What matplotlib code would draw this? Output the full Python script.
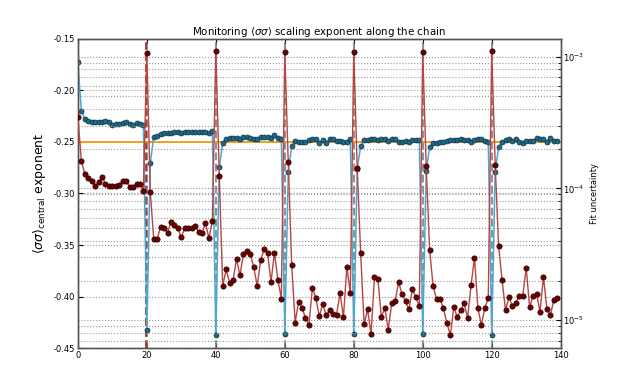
import numpy as np
import matplotlib
matplotlib.use("Agg")
import matplotlib.pyplot as plt

# exponent of <sigma sigma>_central at each step, 7 restarts of 20 steps
exponent = [
    -0.1730, -0.2196, -0.2277, -0.2293, -0.2303, -0.2312, -0.2312, -0.2312, -0.2296, -0.2312,
    -0.2335, -0.2325, -0.2322, -0.2318, -0.2308, -0.2330, -0.2335, -0.2318, -0.2322, -0.2335,
    -0.4325, -0.2707, -0.2448, -0.2443, -0.2420, -0.2415, -0.2412, -0.2415, -0.2405, -0.2408,
    -0.2412, -0.2405, -0.2408, -0.2400, -0.2405, -0.2408, -0.2405, -0.2400, -0.2412, -0.2398,
    -0.4374, -0.2745, -0.2512, -0.2470, -0.2465, -0.2465, -0.2462, -0.2468, -0.2450, -0.2452,
    -0.2462, -0.2468, -0.2470, -0.2455, -0.2450, -0.2452, -0.2458, -0.2435, -0.2460, -0.2472,
    -0.4357, -0.2788, -0.2539, -0.2487, -0.2497, -0.2497, -0.2497, -0.2481, -0.2474, -0.2474,
    -0.2513, -0.2481, -0.2506, -0.2474, -0.2474, -0.2487, -0.2487, -0.2497, -0.2497, -0.2474,
    -0.4364, -0.2760, -0.2539, -0.2481, -0.2481, -0.2468, -0.2468, -0.2481, -0.2474, -0.2468,
    -0.2487, -0.2468, -0.2474, -0.2497, -0.2497, -0.2487, -0.2497, -0.2481, -0.2481, -0.2481,
    -0.4364, -0.2779, -0.2551, -0.2513, -0.2506, -0.2500, -0.2500, -0.2490, -0.2481, -0.2481,
    -0.2481, -0.2468, -0.2481, -0.2481, -0.2497, -0.2481, -0.2474, -0.2474, -0.2487, -0.2497,
    -0.4374, -0.2788, -0.2551, -0.2497, -0.2481, -0.2474, -0.2487, -0.2474, -0.2497, -0.2513,
    -0.2487, -0.2487, -0.2487, -0.2465, -0.2468, -0.2474, -0.2497, -0.2465, -0.2487, -0.2487,
]

# fit uncertainty at each step
uncertainty = [
    3.47e-4, 1.63e-4, 1.29e-4, 1.21e-4, 1.14e-4, 1.05e-4, 1.11e-4, 1.22e-4, 1.09e-4, 1.05e-4,
    1.05e-4, 1.05e-4, 1.06e-4, 1.14e-4, 1.14e-4, 1.03e-4, 1.03e-4, 1.08e-4, 1.09e-4, 9.6e-5,
    1.07e-3, 9.35e-5, 4.11e-5, 4.15e-5, 5.12e-5, 5.03e-5, 4.61e-5, 5.58e-5, 5.27e-5, 4.98e-5,
    4.25e-5, 5.03e-5, 5.03e-5, 4.98e-5, 5.19e-5, 4.69e-5, 4.56e-5, 5.50e-5, 4.18e-5, 5.69e-5,
    1.11e-3, 1.25e-4, 1.82e-5, 2.43e-5, 1.92e-5, 2.02e-5, 2.91e-5, 2.20e-5, 3.18e-5, 3.35e-5,
    3.18e-5, 2.52e-5, 1.82e-5, 2.86e-5, 3.45e-5, 3.25e-5, 1.95e-5, 3.25e-5, 2.02e-5, 1.45e-5,
    1.09e-3, 1.58e-4, 2.61e-5, 9.6e-6, 1.38e-5, 1.24e-5, 1.04e-5, 9.2e-6, 1.76e-5, 1.48e-5,
    1.07e-5, 1.33e-5, 1.09e-5, 1.19e-5, 1.12e-5, 1.10e-5, 1.60e-5, 1.06e-5, 2.54e-5, 1.60e-5,
    1.09e-3, 1.43e-4, 3.21e-5, 9.3e-6, 1.21e-5, 7.8e-6, 2.11e-5, 2.04e-5, 1.05e-5, 1.24e-5,
    8.5e-6, 1.34e-5, 1.40e-5, 1.94e-5, 1.58e-5, 1.39e-5, 1.21e-5, 1.72e-5, 1.49e-5, 1.28e-5,
    1.09e-3, 1.47e-4, 3.41e-5, 1.82e-5, 1.44e-5, 1.46e-5, 1.23e-5, 9.5e-6, 7.7e-6, 1.26e-5,
    1.06e-5, 1.19e-5, 1.34e-5, 1.04e-5, 1.84e-5, 2.98e-5, 1.23e-5, 9.2e-6, 1.24e-5, 1.47e-5,
    1.10e-3, 1.51e-4, 3.66e-5, 2.02e-5, 1.19e-5, 1.50e-5, 1.28e-5, 1.36e-5, 1.52e-5, 1.54e-5,
    2.48e-5, 1.25e-5, 1.54e-5, 1.58e-5, 1.16e-5, 2.13e-5, 1.22e-5, 1.09e-5, 1.42e-5, 1.47e-5,
]

restarts = [20, 40, 60, 80, 100, 120]
target_exponent = -0.25
xticks = [0, 20, 40, 60, 80, 100, 120, 140]
yticks = [-0.45, -0.40, -0.35, -0.30, -0.25, -0.20, -0.15]

steps = np.arange(len(exponent))

plt.rcParams['font.size'] = 6
plt.rcParams['axes.linewidth'] = 1.0

fig = plt.figure(figsize=(6.23, 3.87), dpi=100)
ax1 = fig.add_subplot(111)
fig.subplots_adjust(left=0.125, right=0.9, bottom=0.1, top=0.9)
ax2 = ax1.twinx()

for ax in (ax1, ax2):
    for sp in ax.spines.values():
        sp.set_color('#555555')

# grids
ax1.yaxis.grid(True, linestyle=':', color='#999999', linewidth=0.8)
ax2.yaxis.grid(True, which='both', linestyle=':', color='#999999', linewidth=0.8)
ax1.set_axisbelow(True)

for r in restarts:
    ax1.axvline(r, color='#777777', linestyle='--', linewidth=1.5, alpha=0.8, zorder=1)
ax1.axvline(restarts[0] - 0.3, color='#a83232', linestyle='--', linewidth=1.5, alpha=0.9, zorder=1)

ax1.axhline(target_exponent, color='#f0a020', linewidth=1.4, zorder=2)

ax1.plot(steps, exponent, '-', color='#4aa8d0', linewidth=1.1, zorder=3)
ax1.plot(steps, exponent, 'o', color='#1d6a8a', markersize=3.6,
         markeredgecolor='#0d3040', markeredgewidth=0.5, zorder=4)

ax2.plot(steps, uncertainty, '-', color='#b84444', linewidth=1.0, zorder=3)
ax2.plot(steps, uncertainty, 'o', color='#6e0000', markersize=3.8,
         markeredgecolor='#2a0000', markeredgewidth=0.5, zorder=4)
ax2.set_yscale('log')
ax2.set_ylim(6.12e-6, 1.37e-3)

ax1.set_xlim(0, 140)
ax1.set_ylim(-0.45, -0.15)
ax1.set_xticks(xticks)
ax1.set_yticks(yticks)
ax1.set_yticklabels(['%.2f' % v for v in yticks])
ax1.tick_params(direction='in', top=True, labelsize=6, pad=2)
ax2.tick_params(which='both', direction='in', labelsize=6, pad=2)

ax1.set_ylabel(r'$\langle\sigma\sigma\rangle_{\rm central}$ exponent', fontsize=9)
ax2.set_ylabel('Fit uncertainty', fontsize=6)
ax1.set_title(r'Monitoring $\langle\sigma\sigma\rangle$ scaling exponent along the chain',
              fontsize=7.4, pad=3)

fig.savefig('out.png', dpi=100)
